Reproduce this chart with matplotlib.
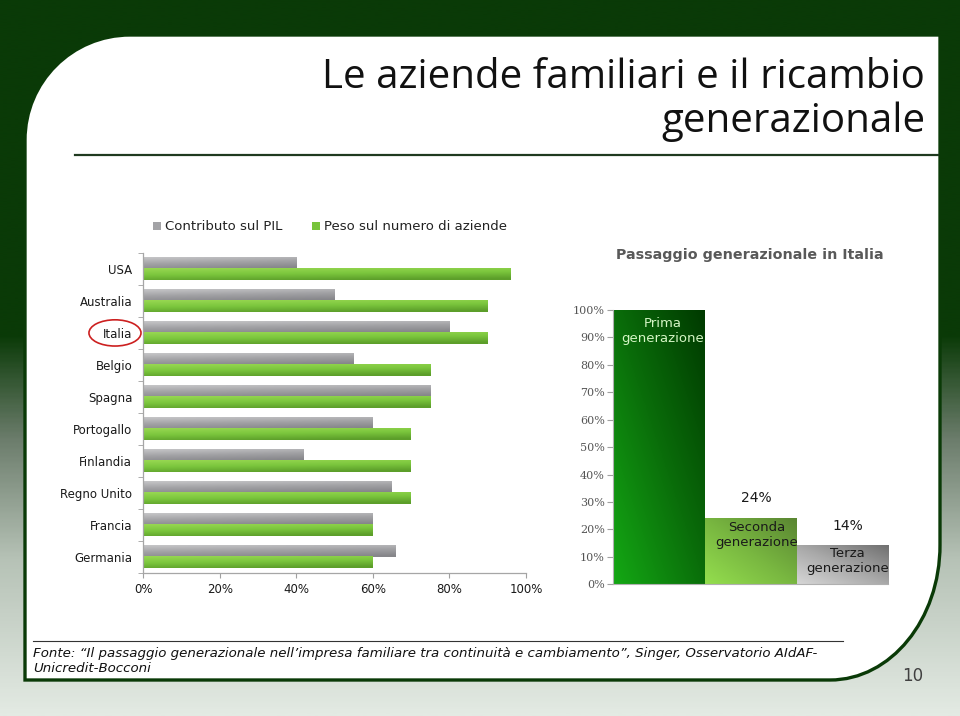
import numpy as np
import matplotlib
matplotlib.use('Agg')
import matplotlib.pyplot as plt
from matplotlib.colors import LinearSegmentedColormap
from matplotlib.path import Path
from matplotlib.patches import PathPatch, Patch, Ellipse
from matplotlib.transforms import blended_transform_factory

# ---------------- data ----------------
countries = ['USA', 'Australia', 'Italia', 'Belgio', 'Spagna', 'Portogallo',
             'Finlandia', 'Regno Unito', 'Francia', 'Germania']
pil_share = [40, 50, 80, 55, 75, 60, 42, 65, 60, 66]      # Contributo sul PIL
firm_share = [96, 90, 90, 75, 75, 70, 70, 70, 60, 60]     # Peso sul numero di aziende
series_names = ['Contributo sul PIL', 'Peso sul numero di aziende']
x_ticks = [0, 20, 40, 60, 80, 100]

generations = ['Prima\ngenerazione', 'Seconda\ngenerazione', 'Terza\ngenerazione']
gen_values = [100, 24, 14]
gen_value_labels = [None, '24%', '14%']
y_ticks_right = [0, 10, 20, 30, 40, 50, 60, 70, 80, 90, 100]

title_lines = ['Le aziende familiari e il ricambio', 'generazionale']
right_title = 'Passaggio generazionale in Italia'
source_lines = ['Fonte: \u201cIl passaggio generazionale nell\u2019impresa familiare tra continuit\u00e0 e cambiamento\u201d, Singer, Osservatorio AIdAF-',
                'Unicredit-Bocconi']
page_number = '10'

# ---------------- figure ----------------
W, H = 960, 716
fig = plt.figure(figsize=(W / 100, H / 100), dpi=100)


def fr(x0, y0, x1, y1):
    return [x0 / W, 1 - y1 / H, (x1 - x0) / W, (y1 - y0) / H]


DARK = '#0a3a07'

bg = fig.add_axes([0, 0, 1, 1])
bg.set_xlim(0, W)
bg.set_ylim(H, 0)
bg.axis('off')

bg_cmap = LinearSegmentedColormap.from_list(
    'bg', [(0, DARK), (335 / H, DARK), (440 / H, '#6c7d6c'),
           (560 / H, '#b6c2b6'), (1, '#e3eae3')])
bg.imshow(np.linspace(0, 1, 400)[:, None], cmap=bg_cmap, extent=(0, W, H, 0),
          origin='upper', aspect='auto', interpolation='bilinear', zorder=0)

# white content panel
k = 0.5523
r1 = 105
verts = [(25, 35 + r1),
         (25, 35 + r1 - k * r1), (25 + r1 - k * r1, 35), (25 + r1, 35),
         (940, 35),
         (940, 545),
         (940, 545 + k * 135), (830 + k * 110, 680), (830, 680),
         (25, 680),
         (25, 35 + r1)]
codes = [Path.MOVETO, Path.CURVE4, Path.CURVE4, Path.CURVE4, Path.LINETO,
         Path.LINETO, Path.CURVE4, Path.CURVE4, Path.CURVE4, Path.LINETO,
         Path.CLOSEPOLY]
bg.add_patch(PathPatch(Path(verts, codes), facecolor='white', edgecolor=DARK,
                       lw=2.4, zorder=2))

bg.plot([75, 938], [155, 155], color='#1f3a1f', lw=1.6, zorder=3)
bg.plot([33, 843], [641, 641], color='#333333', lw=0.8, zorder=3)

bg.text(925, 88, title_lines[0], ha='right', va='baseline', fontsize=29,
        family='Open Sans', color='#111111', zorder=4)
bg.text(925, 132, title_lines[1], ha='right', va='baseline', fontsize=29,
        family='Open Sans', color='#111111', zorder=4)

bg.text(33, 653, source_lines[0], ha='left', va='center', fontsize=9.6,
        style='italic', color='#111111', zorder=4)
bg.text(33, 668, source_lines[1], ha='left', va='center', fontsize=9.6,
        style='italic', color='#111111', zorder=4)
bg.text(913, 676, page_number, ha='center', va='center', fontsize=12,
        color='#404040', zorder=4)

# ---------------- gradient helpers ----------------
grey_cmap = LinearSegmentedColormap.from_list('g', ['#c6c6c8', '#a2a2a5', '#86868a'])
green_cmap = LinearSegmentedColormap.from_list('gr', ['#98d852', '#7bc63d', '#5c9e2a'])


def vgrad(ax, bar, cmap):
    x0, y0 = bar.get_x(), bar.get_y()
    w, h = bar.get_width(), bar.get_height()
    rows = np.linspace(0, 1, 32)[:, None]
    cols = np.linspace(0, 0.25, 64)[None, :]
    arr = np.clip(rows * 0.85 + cols, 0, 1)
    ax.imshow(arr, cmap=cmap, extent=(x0, x0 + w, y0 + h, y0), origin='upper',
              aspect='auto', interpolation='bilinear', zorder=2, vmin=0, vmax=1)
    bar.set_facecolor('none')


def dgrad(ax, bar, cmap):
    x0, y0 = bar.get_x(), bar.get_y()
    w, h = bar.get_width(), bar.get_height()
    yy, xx = np.mgrid[0:1:64j, 0:1:64j]
    arr = (xx + yy) / 2
    ax.imshow(arr, cmap=cmap, extent=(x0, x0 + w, y0, y0 + h), origin='lower',
              aspect='auto', interpolation='bilinear', zorder=2, vmin=0, vmax=1)
    bar.set_facecolor('none')


# ---------------- left chart ----------------
ax1 = fig.add_axes(fr(143.3, 253, 526, 572.7))
ax1.patch.set_visible(False)
n = len(countries)
y = np.arange(n)
bh = 0.35
bars_pil = ax1.barh(y - bh / 2, pil_share, height=bh, edgecolor='none')
bars_firm = ax1.barh(y + bh / 2, firm_share, height=bh, edgecolor='none')
for b in bars_pil:
    vgrad(ax1, b, grey_cmap)
for b in bars_firm:
    vgrad(ax1, b, green_cmap)

ax1.set_xlim(0, 100)
ax1.set_ylim(n - 0.5, -0.5)
ax1.set_yticks(y)
ax1.set_yticklabels(countries, fontsize=8.5, color='#1a1a1a')
ax1.set_yticks(np.arange(-0.5, n, 1), minor=True)
ax1.tick_params(axis='y', which='major', length=0, pad=8)
ax1.tick_params(axis='y', which='minor', length=3.5, color='#a0a0a0')
ax1.set_xticks(x_ticks)
ax1.set_xticklabels([f'{v}%' for v in x_ticks], fontsize=8.5, color='#1a1a1a')
ax1.tick_params(axis='x', length=3.5, color='#a0a0a0', pad=4)
for s in ['top', 'right']:
    ax1.spines[s].set_visible(False)
for s in ['left', 'bottom']:
    ax1.spines[s].set_color('#a6a6a6')
    ax1.spines[s].set_linewidth(0.9)

trans = blended_transform_factory(ax1.transAxes, ax1.transData)
ax1.add_patch(Ellipse((-0.074, countries.index('Italia')), width=0.136, height=0.82,
                      transform=trans, fill=False, edgecolor='#cc2020', lw=1.2,
                      clip_on=False, zorder=5))

fig.legend(handles=[Patch(facecolor='#a3a3a6'), Patch(facecolor='#78c43c')],
           labels=series_names, loc='center', bbox_to_anchor=(330 / W, 1 - 227 / H),
           ncol=2, frameon=False, fontsize=9.5, handlelength=0.6, handleheight=0.6,
           handletextpad=0.3, columnspacing=2.2, labelcolor='#222222')

# ---------------- right chart ----------------
ax2 = fig.add_axes(fr(613, 310, 888.3, 584.3))
ax2.patch.set_visible(False)
xg = np.arange(len(generations))
gbars = ax2.bar(xg, gen_values, width=1.0, edgecolor='none')
gen_cmaps = [LinearSegmentedColormap.from_list('p', ['#14a814', '#0a6e0a', '#003a00']),
             LinearSegmentedColormap.from_list('s', ['#94de4e', '#78b640', '#5a8632']),
             LinearSegmentedColormap.from_list('t', ['#d6d6d6', '#a8a8a8', '#707070'])]
for b, cm in zip(gbars, gen_cmaps):
    dgrad(ax2, b, cm)

ax2.set_xlim(-0.5, len(generations) - 0.5)
ax2.set_ylim(0, 100)
ax2.set_xticks([])
ax2.set_yticks(y_ticks_right)
ax2.set_yticklabels([f'{v}%' for v in y_ticks_right], fontsize=8,
                    family='DejaVu Serif', color='#555555')
ax2.tick_params(axis='y', length=4, color='#a0a0a0', pad=2)
for s in ['top', 'right']:
    ax2.spines[s].set_visible(False)
for s in ['left', 'bottom']:
    ax2.spines[s].set_color('#b0b0b0')
    ax2.spines[s].set_linewidth(0.8)

label_colors = ['#d4f5c4', '#1a1a1a', '#1a1a1a']
label_dx = [4, 6, 5]
label_dy = [-7, -3, -1]
for i, (b, lab) in enumerate(zip(gbars, generations)):
    ax2.annotate(lab, xy=(xg[i], gen_values[i]), xytext=(label_dx[i], label_dy[i]),
                 textcoords='offset pixels', ha='center', va='top', fontsize=9.5,
                 color=label_colors[i], linespacing=1.2, zorder=6,
                 annotation_clip=False)
    if gen_value_labels[i]:
        ax2.annotate(gen_value_labels[i], xy=(xg[i], gen_values[i]),
                     xytext=(label_dx[i], 13), textcoords='offset pixels',
                     ha='center', va='bottom', fontsize=10, color='#1a1a1a',
                     zorder=6, annotation_clip=False)

fig.text(750 / W, 1 - 255 / H, right_title, ha='center', va='center',
         fontsize=10.3, fontweight='bold', color='#595959')

fig.savefig('out.png', dpi=100)
